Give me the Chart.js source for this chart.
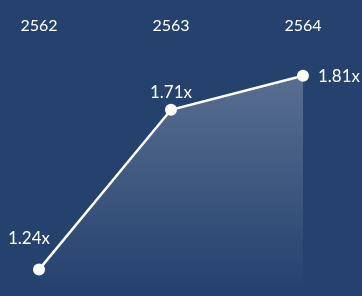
<!DOCTYPE html>
<html>
<head>
<meta charset="utf-8">
<script src="https://cdn.jsdelivr.net/npm/chart.js@4"></script>
<style>
  html, body { margin: 0; padding: 0; background: #25426f; overflow: hidden; }
  #wrap { position: relative; width: 362px; height: 296px; }
</style>
</head>
<body>
<div id="wrap"><canvas id="multipleChart"></canvas></div>
<script>
const years = ['2562', '2563', '2564'];
const multiples = [1.24, 1.71, 1.81];
const valueLabels = ['1.24x', '1.71x', '1.81x'];

// draws the "1.24x" style labels next to each point
const pointLabels = {
    id: 'pointLabels',
    afterDatasetsDraw(chart) {
        const ctx = chart.ctx;
        const pts = chart.getDatasetMeta(0).data;
        ctx.save();
        ctx.fillStyle = '#ffffff';
        ctx.font = '17px Lato, sans-serif';
        ctx.textBaseline = 'middle';
        pts.forEach((p, i) => {
            const last = i === pts.length - 1;
            if (i === 0) {
                ctx.textAlign = 'center';
                ctx.fillText(valueLabels[i], p.x - 10, p.y - 31);
            } else if (last) {
                ctx.textAlign = 'left';
                ctx.fillText(valueLabels[i], p.x + 15, p.y + 1);
            } else {
                ctx.textAlign = 'center';
                ctx.fillText(valueLabels[i], p.x, p.y - 17);
            }
        });
        ctx.restore();
    }
};

const ctx = document.getElementById('multipleChart').getContext('2d');
new Chart(ctx, {
    type: 'line',
    data: {
        labels: years,
        datasets: [{
            data: multiples,
            borderColor: '#ffffff',
            borderWidth: 2.5,
            pointRadius: 6,
            pointHoverRadius: 6,
            pointBackgroundColor: '#ffffff',
            pointBorderWidth: 0,
            tension: 0,
            fill: 'start',
            backgroundColor: (c) => {
                const area = c.chart.chartArea;
                if (!area) return 'rgba(255,255,255,0.2)';
                const g = c.chart.ctx.createLinearGradient(0, area.top + 30, 0, area.bottom);
                g.addColorStop(0, 'rgba(255,255,255,0.24)');
                g.addColorStop(1, 'rgba(255,255,255,0.0)');
                return g;
            }
        }]
    },
    options: {
        responsive: true,
        maintainAspectRatio: false,
        animation: false,
        layout: { padding: { top: 6, left: 39, right: 59, bottom: 0 } },
        plugins: { legend: { display: false }, tooltip: { enabled: false } },
        scales: {
            x: {
                position: 'top',
                grid: { display: false, drawTicks: false },
                border: { display: false },
                ticks: { color: '#ffffff', padding: 10, font: { family: 'Lato', size: 16 } }
            },
            y: {
                display: false,
                min: 1.18,
                max: 1.90
            }
        }
    },
    plugins: [pointLabels]
});
</script>
</body>
</html>
